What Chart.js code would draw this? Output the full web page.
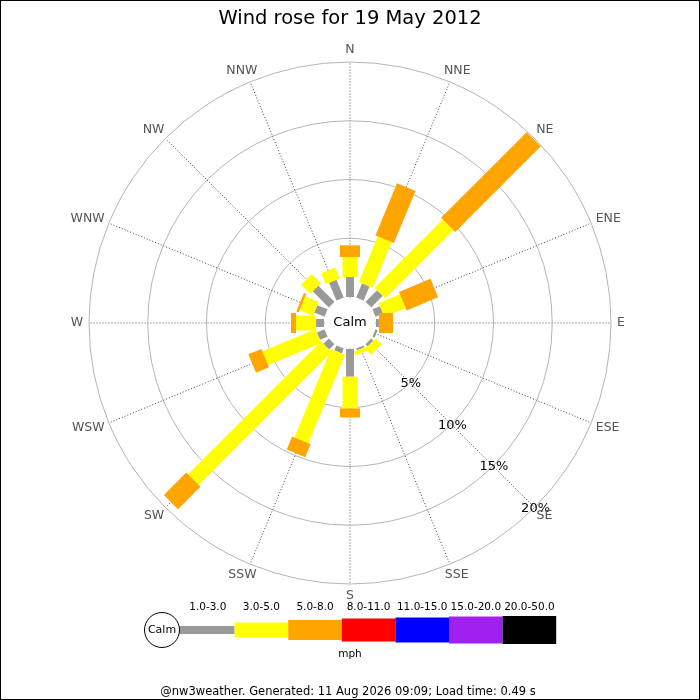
<!DOCTYPE html>
<html>
<head>
<meta charset="utf-8">
<script src="https://cdn.jsdelivr.net/npm/chart.js@4.4.1/dist/chart.umd.min.js"></script>
<style>
body { margin: 0; background: #fff; }
</style>
</head>
<body>
<canvas id="rose" width="700" height="700"></canvas>
<script>
var directions = ['N','NNE','NE','ENE','E','ESE','SE','SSE','S','SSW','SW','WSW','W','WNW','NW','NNW'];
var speedBins = ['1.0-3.0','3.0-5.0','5.0-8.0','8.0-11.0','11.0-15.0','15.0-20.0','20.0-50.0'];
var binColours = ['#999999','#ffff00','#ffa500','#ff0000','#0000ff','#a020f0','#000000'];
// % of the day in each direction, per speed bin
var light    = [1.7, 1.3, 1.4, 0.7, 0.25, 0.2, 0.26, 0.17, 2.36, 0.45, 0.64, 0.7, 0.68, 0.94, 1.94, 1.63];
var gentle   = [1.7, 4.2, 8.2, 1.95, 0, 0, 0.7, 0.35, 2.7, 8.15, 16.0, 4.9, 1.7, 1.24, 1.1, 1.0];
var moderate = [1.0, 4.8, 10.3, 2.9, 1.2, 0, 0, 0, 0.77, 1.2, 2.7, 1.2, 0.43, 0.2, 0, 0];
var ringTicks = [5, 10, 15, 20];

var barWidths = [8, 15, 20, 23, 25, 27, 28];
var FONT = 'DejaVu Sans';

var rosePlugin = {
    id: 'rose',
    afterDatasetsDraw: function(chart) {
        var ctx = chart.ctx, r = chart.scales.r;
        ctx.save();
        ctx.lineCap = 'butt';
        // stacked bars along each spoke
        directions.forEach(function(d, i) {
            var base = 0;
            chart.data.datasets.forEach(function(ds, k) {
                var v = ds.data[i];
                if (v > 0) {
                    var p0 = r.getPointPositionForValue(i, base);
                    var p1 = r.getPointPositionForValue(i, base + v);
                    ctx.strokeStyle = binColours[k];
                    ctx.lineWidth = barWidths[k];
                    ctx.beginPath();
                    ctx.moveTo(p0.x, p0.y);
                    ctx.lineTo(p1.x, p1.y);
                    ctx.stroke();
                }
                base += v;
            });
        });
        // calm circle
        ctx.fillStyle = '#fff';
        ctx.beginPath();
        ctx.arc(r.xCenter, r.yCenter, 25, 0, Math.PI * 2);
        ctx.fill();
        ctx.fillStyle = '#000';
        ctx.font = '13px "' + FONT + '"';
        ctx.textAlign = 'center';
        ctx.textBaseline = 'middle';
        ctx.fillText('Calm', r.xCenter, r.yCenter);

        // ring labels along SE spoke
        ringTicks.forEach(function(v) {
            var p = r.getPointPositionForValue(6, v);
            ctx.fillText(v + '%', p.x + 1, p.y + 1);
        });

        // compass labels
        ctx.font = '12.5px "' + FONT + '"';
        ctx.fillStyle = '#555';
        directions.forEach(function(d, i) {
            var a = i * Math.PI / 8;
            var w = ctx.measureText(d).width;
            var p = r.getPointPosition(i, r.drawingArea + 6);
            ctx.fillText(d, p.x + Math.sin(a) * w / 2, p.y - Math.cos(a) * 6);
        });
        ctx.restore();
    },
    afterDraw: function(chart) {
        var ctx = chart.ctx;
        ctx.save();
        // speed legend
        var x0 = 181, step = 53.6, cy = 630;
        ctx.fillStyle = '#999999';
        ctx.fillRect(170, cy - 4, 12, 8);
        speedBins.forEach(function(b, k) {
            var h = barWidths[k];
            ctx.fillStyle = binColours[k];
            ctx.fillRect(x0 + k * step, cy - h / 2, step, h);
        });
        ctx.fillStyle = '#fff';
        ctx.strokeStyle = '#000';
        ctx.lineWidth = 1;
        ctx.beginPath();
        ctx.arc(162, cy, 17.5, 0, Math.PI * 2);
        ctx.fill();
        ctx.stroke();
        ctx.fillStyle = '#000';
        ctx.textAlign = 'center';
        ctx.textBaseline = 'middle';
        ctx.font = '11px "' + FONT + '"';
        ctx.fillText('Calm', 162, cy);
        ctx.font = '10.5px "' + FONT + '"';
        speedBins.forEach(function(b, k) {
            ctx.fillText(b, x0 + k * step + step / 2, 607);
        });
        ctx.fillText('mph', 350, 654);
        ctx.font = '11.5px "' + FONT + '"';
        ctx.fillText('@nw3weather. Generated: 11 Aug 2026 09:09; Load time: 0.49 s', 348, 692);
        // frame
        ctx.strokeStyle = '#000';
        ctx.strokeRect(0.5, 0.5, 699, 699);
        ctx.restore();
    }
};

var ctx = document.getElementById('rose');
new Chart(ctx, {
    type: 'radar',
    data: {
        labels: directions,
        datasets: [light, gentle, moderate].map(function(d, k) {
            return {
                label: speedBins[k],
                data: d,
                fill: false,
                showLine: false,
                borderWidth: 0,
                pointRadius: 0,
                pointHoverRadius: 0,
                borderColor: 'rgba(0,0,0,0)',
                backgroundColor: 'rgba(0,0,0,0)'
            };
        })
    },
    options: {
        responsive: false,
        animation: false,
        layout: { padding: { left: 89, right: 89, top: 0, bottom: 115 } },
        plugins: {
            legend: { display: false },
            tooltip: { enabled: false },
            title: {
                display: true,
                text: 'Wind rose for 19 May 2012',
                color: '#000',
                font: { family: FONT, size: 19.5, weight: 'normal' },
                padding: { top: 7, bottom: 32 }
            }
        },
        scales: {
            r: {
                min: -2.21,
                max: 20,
                ticks: { display: false },
                pointLabels: { display: false },
                grid: { circular: true, color: '#b4b4b4', lineWidth: 1 },
                angleLines: {
                    color: function(c) { return c.index % 4 === 0 ? '#aaa' : '#444'; },
                    lineWidth: 1,
                    borderDash: function(c) { return c.index % 4 === 0 ? [2, 1] : [1, 2]; }
                },
                afterBuildTicks: function(s) {
                    s.ticks = ringTicks.map(function(v) { return { value: v }; });
                }
            }
        }
    },
    plugins: [rosePlugin]
});
</script>
</body>
</html>
